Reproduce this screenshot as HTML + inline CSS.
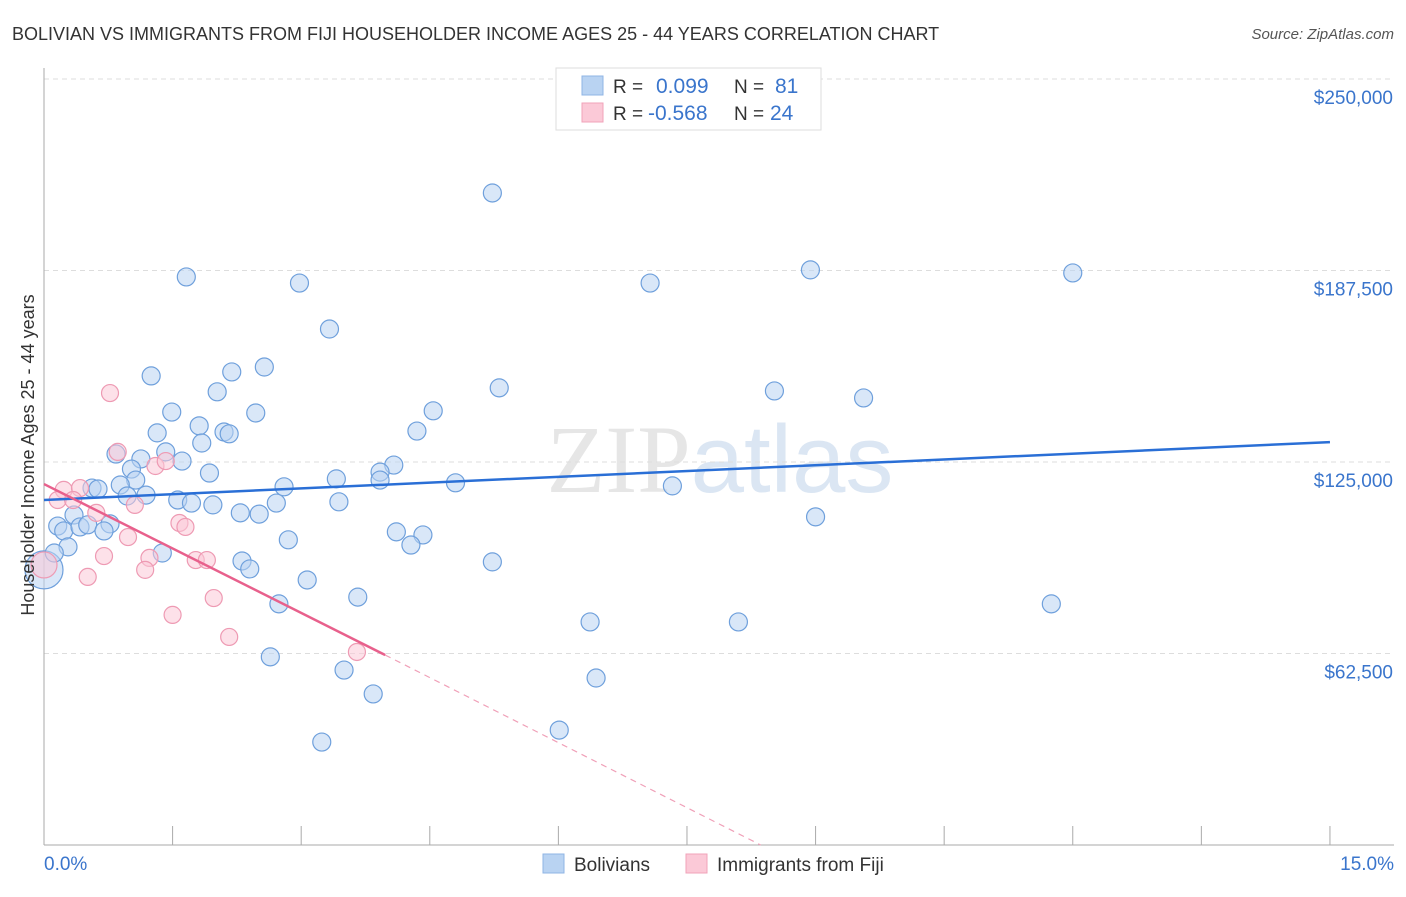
<!DOCTYPE html>
<html><head><meta charset="utf-8"><style>
body{margin:0;background:#fff;font-family:"Liberation Sans",sans-serif}
</style></head><body>
<svg width="1406" height="892" xmlns="http://www.w3.org/2000/svg">
<text x="12" y="40" font-size="18" fill="#333">BOLIVIAN VS IMMIGRANTS FROM FIJI HOUSEHOLDER INCOME AGES 25 - 44 YEARS CORRELATION CHART</text>
<text x="1394" y="39" font-size="15" fill="#555" font-style="italic" text-anchor="end">Source: ZipAtlas.com</text>
<text x="720" y="492" font-size="96" fill="#e6e6e6" text-anchor="middle" font-family="Liberation Serif">ZIP<tspan fill="#dbe6f3" font-family="Liberation Sans">atlas</tspan></text>
<g id="grid"></g>
<g id="axes"></g>
<g id="marks"></g>
<text transform="translate(34,455) rotate(-90)" font-size="18" fill="#333" text-anchor="middle">Householder Income Ages 25 - 44 years</text>
<g>
<rect x="556" y="68" width="265" height="62" fill="#fff" stroke="#ddd"/>
<rect x="582" y="76" width="21" height="19" fill="#b9d3f2" stroke="#8fb4e4"/>
<text x="613" y="93" font-size="19" fill="#333">R = </text><text x="656" y="93" font-size="21" fill="#3a75cc">0.099</text>
<text x="734" y="93" font-size="19" fill="#333">N = </text><text x="775" y="93" font-size="21" fill="#3a75cc">81</text>
<rect x="582" y="103" width="21" height="19" fill="#fbc9d7" stroke="#f0a3ba"/>
<text x="613" y="120" font-size="19" fill="#333">R = </text><text x="648" y="120" font-size="21" fill="#3a75cc">-0.568</text>
<text x="734" y="120" font-size="19" fill="#333">N = </text><text x="770" y="120" font-size="21" fill="#3a75cc">24</text>
</g>
<g>
<rect x="543" y="854" width="21" height="19" fill="#b9d3f2" stroke="#8fb4e4"/>
<text x="574" y="871" font-size="19" fill="#333">Bolivians</text>
<rect x="686" y="854" width="21" height="19" fill="#fbc9d7" stroke="#f0a3ba"/>
<text x="717" y="871" font-size="19" fill="#333">Immigrants from Fiji</text>
</g>
</svg>
<script>
const yTicks=[62500,125000,187500,250000];
const yTickLabels=["$62,500","$125,000","$187,500","$250,000"];
const xTicks=[0,1.5,3,4.5,6,7.5,9,10.5,12,13.5,15];
const blueX=[5.23,1.66,2.98,7.07,8.94,12.0,3.33,1.25,2.19,2.57,2.02,5.31,8.52,9.56,1.49,2.47,4.54,1.81,1.32,2.10,2.16,4.35,1.84,0.84,1.42,1.13,1.61,1.02,1.93,4.08,3.92,3.41,3.92,4.80,1.07,0.89,0.56,0.63,2.80,7.33,0.97,1.19,1.56,1.72,1.97,2.71,3.44,2.29,2.51,0.35,9.0,0.16,0.23,0.42,0.51,0.77,0.70,4.11,4.42,2.85,4.28,0.28,0.12,1.38,2.31,2.40,5.23,3.07,3.66,2.74,11.75,6.37,8.10,2.64,3.50,6.44,3.84,6.01,3.24];
const blueY=[212.8,185.4,183.4,183.4,187.7,186.7,168.4,153.1,154.4,156.0,147.9,149.2,148.2,145.9,141.3,141.0,141.7,136.8,134.5,134.8,134.2,135.1,131.2,127.6,128.3,126.0,125.3,122.7,121.4,124.0,121.7,119.5,119.1,118.2,119.1,117.5,116.5,116.2,116.9,117.2,113.9,114.2,112.6,111.6,111.0,111.6,112.0,108.4,108.0,107.7,107.1,104.1,102.5,103.8,104.5,104.8,102.5,102.2,101.2,99.6,97.9,97.3,95.3,95.3,92.7,90.1,92.4,86.5,80.9,78.7,78.7,72.8,72.8,61.4,57.1,54.5,49.3,37.5,33.6];
const pinkX=[0.77,0.86,1.30,1.42,0.23,0.42,0.16,0.34,1.06,0.61,1.58,1.65,0.98,0.70,1.23,1.18,1.77,1.90,0.51,1.98,1.50,2.16,3.65];
const pinkY=[147.5,128.3,123.7,125.3,115.9,116.5,112.6,112.6,111.0,108.4,105.1,103.8,100.5,94.3,93.7,89.8,93.0,93.0,87.5,80.6,75.1,67.9,63.0];
const blueTrend=[[0,112.6],[15,131.5]];
const pinkTrend=[[0,117.8],[3.98,62.0]];
const pinkDash=[[3.98,62.0],[8.36,0]];
const NS="http://www.w3.org/2000/svg";
const X=v=>44+v*85.73, Y=k=>845-k*3.064;
function mk(t,a,p){const e=document.createElementNS(NS,t);for(const k in a)e.setAttribute(k,a[k]);document.getElementById(p).appendChild(e);return e;}
yTicks.forEach((t,i)=>{
 const g=mk('line',{x1:44,x2:1394,y1:Y(t/1000),y2:Y(t/1000),stroke:'#ddd','stroke-dasharray':'5,4'},'grid');
 
 
 const l=mk('text',{x:1393,y:Y(t/1000)+25,'font-size':19,fill:'#3a75cc','text-anchor':'end'},'axes');
 l.textContent=yTickLabels[i];
 
 
});
const tg=mk('line',{x1:44,x2:1394,y1:79,y2:79,stroke:'#ddd','stroke-dasharray':'5,4'},'grid');
const ya=mk('line',{x1:44,x2:44,y1:68,y2:845,stroke:'#aaa'},'axes');


const xa=mk('line',{x1:44,x2:1394,y1:845,y2:845,stroke:'#aaa'},'axes');


xTicks.forEach(t=>{const e=mk('line',{x1:X(t),x2:X(t),y1:826,y2:845,stroke:'#aaa'},'axes');
 
 });
const x0=mk('text',{x:44,y:870,'font-size':19,fill:'#3a75cc'},'axes');x0.textContent='0.0%';


const x1=mk('text',{x:1394,y:870,'font-size':19,fill:'#3a75cc','text-anchor':'end'},'axes');x1.textContent='15.0%';


function dot(x,y,r,f,s,n){const c=mk('circle',{cx:X(x),cy:Y(y),r:r,fill:f,'fill-opacity':0.55,stroke:s,'stroke-width':1.2},'marks');
 
 }
dot(0,89.8,19,'#b9d3f2','#6fa0dc','bolivian-point-large');
blueX.forEach((x,i)=>dot(x,blueY[i],9,'#b9d3f2','#6fa0dc','bolivian-point'));
dot(0,91.4,13,'#fbc9d7','#ee9ab3','fiji-point-large');
pinkX.forEach((x,i)=>dot(x,pinkY[i],8.5,'#fbc9d7','#ee9ab3','fiji-point'));
const bl=mk('line',{x1:X(blueTrend[0][0]),y1:Y(blueTrend[0][1]),x2:X(blueTrend[1][0]),y2:Y(blueTrend[1][1]),stroke:'#2a6fd6','stroke-width':2.5},'marks');


const pl=mk('line',{x1:X(pinkTrend[0][0]),y1:Y(pinkTrend[0][1]),x2:X(pinkTrend[1][0]),y2:Y(pinkTrend[1][1]),stroke:'#e8608c','stroke-width':2.5},'marks');


const pd=mk('line',{x1:X(pinkDash[0][0]),y1:Y(pinkDash[0][1]),x2:X(pinkDash[1][0]),y2:Y(pinkDash[1][1]),stroke:'#f0a0b8','stroke-width':1.2,'stroke-dasharray':'6,5'},'marks');


</script>
</body></html>
